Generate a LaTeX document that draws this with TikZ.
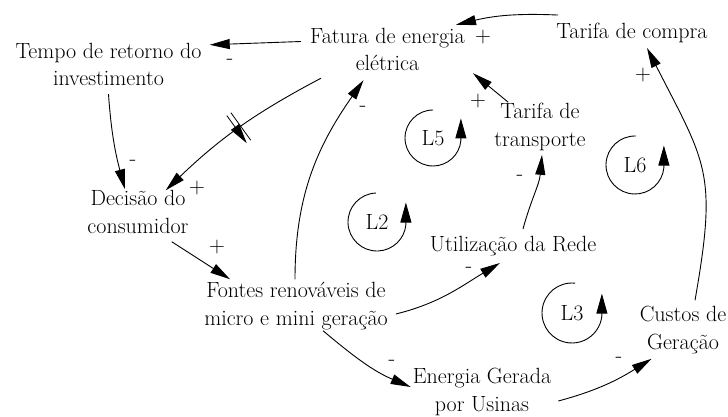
\documentclass[tikz,border=0pt]{standalone}
\usetikzlibrary{arrows.meta,decorations.markings}

\begin{document}
\begin{tikzpicture}[x=1pt,y=1pt,
  var/.style={align=center,inner sep=0pt,font=\fontsize{22}{27.5}\selectfont,
    execute at begin node=\strut,execute at end node=\strut},
  sgn/.style={inner sep=0pt,font=\fontsize{22}{27.5}\selectfont},
  link/.style={line width=0.9pt,-{Triangle[length=20pt,width=10pt]}},
  cyc/.style={line width=0.9pt,-{Triangle[length=20pt,width=11pt]}},
  delaymark/.style={postaction={decorate},decoration={markings,
    mark=at position 0.5 with {\draw[line width=0.8pt] (-2.5,-17) -- (-2.5,17) (2.5,-17) -- (2.5,17);}}}]
\useasboundingbox (0,0) rectangle (728,416);

% variables
\node[var] (tempo) at (108.5,347.5) {Tempo de retorno do\\investimento};
\node[var] (fatura) at (387.5,362.5) {Fatura de energia\\elétrica};
\node[var] (compra) at (632,383) {Tarifa de compra};
\node[var] (decisao) at (138,200) {Decisão do\\consumidor};
\node[var] (fontes) at (296,108) {Fontes renováveis de\\micro e mini geração};
\node[var] (transp) at (540,287) {Tarifa de\\transporte};
\node[var] (utiliz) at (513,170) {Utilização da Rede};
\node[var] (custos) at (683,84) {Custos de\\Geração};
\node[var] (energia) at (482,22) {Energia Gerada\\por Usinas};

% links
\draw[link] ([shift={(-9,12)}]fatura.west) -- ([shift={(8,-2)}]tempo.north east);
\draw[link] ([shift={(2,4)}]compra.north west) to[bend right=8] ([shift={(-9,3)}]fatura.north east);
\draw[link,delaymark] ([shift={(11,1)}]fatura.south west) to[bend right=8] ([shift={(-23,0)}]decisao.north east);
\draw[link] (tempo.south) to[out=-86,in=105] ([shift={(-13,1)}]decisao.north);
\draw[link] ([shift={(-17,0)}]decisao.south east) -- ([shift={(26,3)}]fontes.north west);
\draw[link] ([shift={(-1,3)}]fontes.north) to[out=90,in=235] ([shift={(-24,-1)}]fatura.south);
\draw[link] ([shift={(8,-6)}]fontes.east) to[out=14,in=211] ([shift={(-13,-3)}]utiliz.south);
\draw[link] ([shift={(10,3)}]utiliz.north) to[out=75,in=-95] ([shift={(2,0)}]transp.south);
\draw[link] ([shift={(14,1)}]transp.north west) -- ([shift={(8,6)}]fatura.south east);
\draw[link] ([shift={(12,6)}]custos.north) to[out=80,in=-63,looseness=1.3] ([shift={(15,-1)}]compra.south);
\draw[link] ([shift={(27,3)}]fontes.south) to[out=-40,in=157] ([shift={(-2,7)}]energia.west);
\draw[link] ([shift={(7,-7)}]energia.east) to[out=15,in=212] ([shift={(12,-1)}]custos.south west);

% polarities
\node[sgn] (s1) at (230,354) {-};
\node[sgn] (s2) at (483,379) {+};
\node[sgn] (s3) at (197,228) {+};
\node[sgn] (s4) at (133,253) {-};
\node[sgn] (s5) at (217,169) {+};
\node[sgn] (s6) at (363,307) {-};
\node[sgn] (s7) at (469,146) {-};
\node[sgn] (s8) at (520,238) {-};
\node[sgn] (s9) at (478,315) {+};
\node[sgn] (s10) at (643,341) {+};
\node[sgn] (s11) at (392,53) {-};
\node[sgn] (s12) at (619,56) {-};

% loops
\node[sgn] (L5) at (433,278) {L5};
\node[sgn] (L2) at (377,194) {L2};
\node[sgn] (L6) at (635,251) {L6};
\node[sgn] (L3) at (572,103) {L3};
\draw[cyc] (L5.center) ++(90:28) arc[start angle=90,end angle=355,radius=28] -- ++(0,22);
\draw[cyc] (L2.center) ++(92:29) arc[start angle=92,end angle=355,radius=29] -- ++(0,22);
\draw[cyc] (L6.center) ++(88:29) arc[start angle=88,end angle=355,radius=29] -- ++(0,22);
\draw[cyc] (L3.center) ++(84:30) arc[start angle=84,end angle=355,radius=30] -- ++(0,22);

\end{tikzpicture}
\end{document}
